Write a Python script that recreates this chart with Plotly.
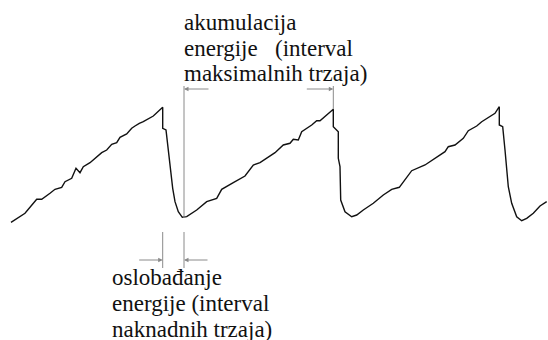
import plotly.graph_objects as go

# time axis (arbitrary units) and signal level (arbitrary units)
t = [11, 25, 36.7, 41.7, 50, 55, 61.7, 65, 71.7, 76, 80, 83.3, 90, 96.7, 101.7, 106.7,
     111.7, 116.7, 120, 126.7, 131.7, 135, 139.3, 143.3, 153.3, 162.7, 162.7, 166, 168.3,
     170, 170.7, 172.7, 175, 178.3, 182.3, 186.7, 196.7, 206.7, 216.7, 221.7, 233.3, 245,
     253.3, 260, 275, 283.3, 290, 293.3, 298.3, 301.7, 311.7, 316.7, 320, 333.3, 333.3,
     338.3, 338.3, 340, 340.7, 345, 351.7, 356.7, 363.3, 373.3, 383.3, 391.7, 399.3, 405,
     411.7, 425, 433.3, 445, 448.3, 455, 463.3, 468.3, 476.7, 481.7, 495, 499.3, 499.3,
     502.7, 505, 506.7, 508.3, 511.7, 516.7, 521.7, 526.7, 533.3, 540, 546.7]
py = [222.3, 213.3, 199.3, 199.3, 193.3, 189.3, 187.3, 181.7, 178.3, 168.3, 172.7, 166.7,
      162.7, 156.7, 152.7, 150, 144.3, 142.7, 137.3, 134, 128.3, 126, 123.3, 121.7, 116,
      107.3, 128.3, 130, 150, 170, 173.3, 188.3, 201.7, 211.7, 217.3, 216.7, 210, 201.7,
      198.3, 189.3, 182.7, 176, 165, 162.7, 152.7, 145, 143.3, 139.3, 140, 131.7, 125,
      120.7, 120.7, 109.3, 126.7, 131.7, 158.3, 166.7, 200, 211.7, 216.7, 215, 210, 203.3,
      195, 189.3, 187.3, 180, 170.7, 165, 159.3, 151.7, 146.7, 145, 138.3, 130.7, 126,
      121.7, 113.3, 106.7, 125, 126.7, 150, 166.7, 186.7, 203.3, 216.7, 220.7, 218.3,
      213.3, 206, 201.7]
H = 340
level = [H - v for v in py]

top_lines = ["akumulacija", "energije", "(interval", "maksimalnih trzaja)"]
bottom_lines = ["oslobađanje", "energije (interval", "naknadnih trzaja)"]

# interval markers (time positions)
acc_start, acc_end = 184, 333.3
rel_start, rel_end = 162.7, 184

fig = go.Figure()
fig.add_trace(go.Scatter(x=t, y=level, mode="lines",
                         line=dict(color="#111111", width=1.4), hoverinfo="skip"))

gray = "#8a8a8a"
shapes = [
    dict(type="line", x0=acc_start, x1=acc_start, y0=H - 86, y1=H - 218, xref="x", yref="y",
         line=dict(color=gray, width=1)),
    dict(type="line", x0=acc_end, x1=acc_end, y0=H - 86, y1=H - 109, xref="x", yref="y",
         line=dict(color=gray, width=1)),
    dict(type="line", x0=rel_start, x1=rel_start, y0=H - 232, y1=H - 268, xref="x", yref="y",
         line=dict(color=gray, width=1)),
    dict(type="line", x0=rel_end, x1=rel_end, y0=H - 232, y1=H - 268, xref="x", yref="y",
         line=dict(color=gray, width=1)),
]

anns = []
def arrow(x_to, x_from, yv):
    anns.append(dict(x=x_to, y=yv, ax=x_from, ay=yv, xref="x", yref="y", axref="x", ayref="y",
                     showarrow=True, arrowhead=2, arrowsize=0.9, arrowwidth=1,
                     arrowcolor=gray, text=""))

arrow(acc_start, acc_start + 26, H - 89)
arrow(acc_end, acc_end - 28, H - 89)
arrow(rel_start, rel_start - 25, H - 260)
arrow(rel_end, rel_end + 25, H - 260)

fs = 23
font = dict(family="Liberation Serif", size=fs, color="#111111")
shift = (0.891 - 0.216) / 2 * fs

def label(s, x, baseline):
    anns.append(dict(x=x, y=H - (baseline - shift), xref="x", yref="y", text=s,
                     showarrow=False, xanchor="left", yanchor="middle", font=font))

top_x = [182, 182, 273, 182]
top_base = [30.7, 56.2, 56.2, 81.7]
for s, x, b in zip(top_lines, top_x, top_base):
    label(s, x, b)
for i, s in enumerate(bottom_lines):
    label(s, 110, 285 + 26.2 * i)

fig.update_layout(
    width=548, height=340, margin=dict(l=0, r=0, t=0, b=0),
    paper_bgcolor="white", plot_bgcolor="white", showlegend=False,
    xaxis=dict(range=[0, 548], visible=False, fixedrange=True),
    yaxis=dict(range=[0, H], visible=False, fixedrange=True),
    shapes=shapes, annotations=anns,
)
fig.write_html("out.html", config={"displayModeBar": False},
               post_script="document.body.style.margin='0';document.body.style.overflow='hidden';")
